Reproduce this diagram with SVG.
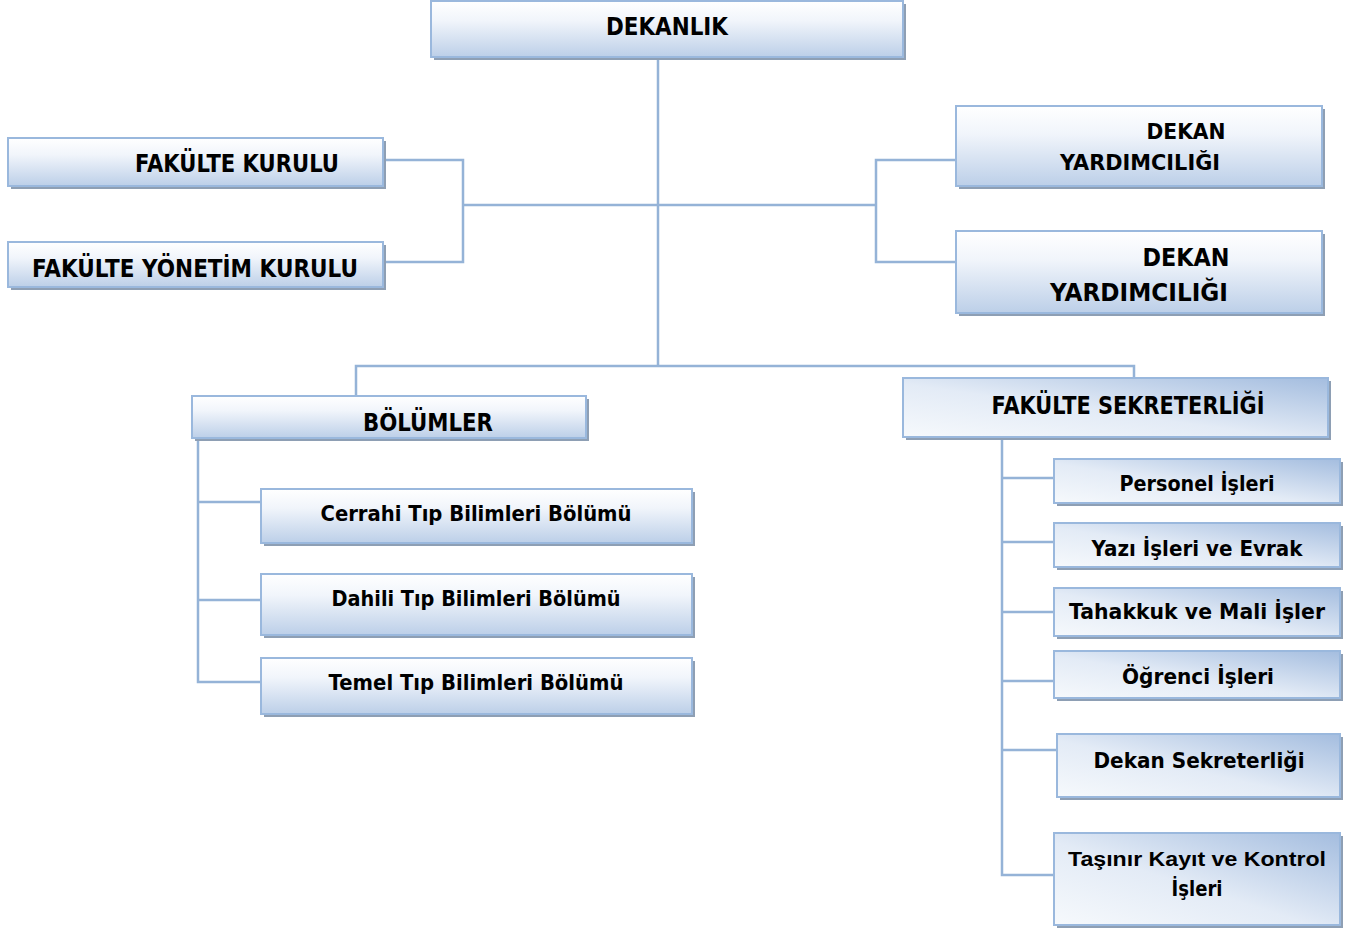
<svg xmlns="http://www.w3.org/2000/svg" width="1354" height="932" viewBox="0 0 1354 932">
<defs>
<linearGradient id="gv" x1="0" y1="0" x2="0" y2="1">
<stop offset="0" stop-color="#ffffff"/>
<stop offset="0.35" stop-color="#f1f5fb"/>
<stop offset="1" stop-color="#bccfe8"/>
</linearGradient>
<linearGradient id="gd" x1="1" y1="0" x2="0" y2="1">
<stop offset="0" stop-color="#a4bddf"/>
<stop offset="0.55" stop-color="#e3ebf6"/>
<stop offset="1" stop-color="#f6f9fc"/>
</linearGradient>
</defs>
<style>
.sh{fill:#8e9fb4}
.bv{fill:url(#gv);stroke:#9ab8dd;stroke-width:2}
.bd{fill:url(#gd);stroke:#9ab8dd;stroke-width:2}
text{font-family:"DejaVu Sans","Liberation Sans",sans-serif;font-weight:bold;fill:#000;text-anchor:middle}
.t1{font-size:24px}
.t2{font-size:22px}
.t3{font-size:20px;font-family:"Liberation Sans","DejaVu Sans",sans-serif}
.c{fill:none;stroke:#95b3d7;stroke-width:2.5}
</style>
<rect width="1354" height="932" fill="#ffffff"/>
<g id="connectors">
<path class="c" d="M658 57 V366"/>
<path class="c" d="M463 205 H876"/>
<path class="c" d="M383 160 H463 V262 H383"/>
<path class="c" d="M956 160 H876 V262 H956"/>
<path class="c" d="M356 396 V366 H1134 V378"/>
<path class="c" d="M198 438 V682 H261 M198 502 H261 M198 600 H261"/>
<path class="c" d="M1002 437 V875 H1054 M1002 478 H1054 M1002 542 H1054 M1002 612 H1054 M1002 681 H1054 M1002 750 H1057"/>
</g>
<g id="dekanlik">
<rect class="sh" x="434" y="4" width="472" height="56"/>
<rect class="bv" x="431" y="1" width="472" height="56"/>
<text class="t1" x="667" y="35" textLength="122" lengthAdjust="spacingAndGlyphs">DEKANLIK</text>
</g>
<g id="fakulte-kurulu">
<rect class="sh" x="11" y="141" width="375" height="48"/>
<rect class="bv" x="8" y="138" width="375" height="48"/>
<text class="t1" x="237" y="172" textLength="204" lengthAdjust="spacingAndGlyphs">FAKÜLTE KURULU</text>
</g>
<g id="fakulte-yonetim-kurulu">
<rect class="sh" x="11" y="245" width="375" height="45"/>
<rect class="bv" x="8" y="242" width="375" height="45"/>
<text class="t1" x="195" y="277" textLength="326" lengthAdjust="spacingAndGlyphs">FAKÜLTE YÖNETİM KURULU</text>
</g>
<g id="dekan-yardimciligi-1">
<rect class="sh" x="959" y="109" width="366" height="80"/>
<rect class="bv" x="956" y="106" width="366" height="80"/>
<text class="t2" x="1186" y="139" textLength="79" lengthAdjust="spacingAndGlyphs">DEKAN</text>
<text class="t2" x="1140" y="170" textLength="160" lengthAdjust="spacingAndGlyphs">YARDIMCILIĞI</text>
</g>
<g id="dekan-yardimciligi-2">
<rect class="sh" x="959" y="234" width="366" height="82"/>
<rect class="bv" x="956" y="231" width="366" height="82"/>
<text class="t1" x="1186" y="266" textLength="87" lengthAdjust="spacingAndGlyphs">DEKAN</text>
<text class="t1" x="1139" y="301" textLength="178" lengthAdjust="spacingAndGlyphs">YARDIMCILIĞI</text>
</g>
<g id="bolumler">
<rect class="sh" x="195" y="399" width="394" height="42"/>
<rect class="bv" x="192" y="396" width="394" height="42"/>
<text class="t1" x="428" y="431" textLength="130" lengthAdjust="spacingAndGlyphs">BÖLÜMLER</text>
</g>
<g id="cerrahi">
<rect class="sh" x="264" y="492" width="431" height="54"/>
<rect class="bv" x="261" y="489" width="431" height="54"/>
<text class="t2" x="476" y="521" textLength="311" lengthAdjust="spacingAndGlyphs">Cerrahi Tıp Bilimleri Bölümü</text>
</g>
<g id="dahili">
<rect class="sh" x="264" y="577" width="431" height="61"/>
<rect class="bv" x="261" y="574" width="431" height="61"/>
<text class="t2" x="476" y="606" textLength="289" lengthAdjust="spacingAndGlyphs">Dahili Tıp Bilimleri Bölümü</text>
</g>
<g id="temel">
<rect class="sh" x="264" y="661" width="431" height="56"/>
<rect class="bv" x="261" y="658" width="431" height="56"/>
<text class="t2" x="476" y="690" textLength="295" lengthAdjust="spacingAndGlyphs">Temel Tıp Bilimleri Bölümü</text>
</g>
<g id="fakulte-sekreterligi">
<rect class="sh" x="906" y="381" width="425" height="59"/>
<rect class="bd" x="903" y="378" width="425" height="59"/>
<text class="t1" x="1128" y="414" textLength="273" lengthAdjust="spacingAndGlyphs">FAKÜLTE SEKRETERLİĞİ</text>
</g>
<g id="personel">
<rect class="sh" x="1057" y="462" width="286" height="44"/>
<rect class="bd" x="1054" y="459" width="286" height="44"/>
<text class="t2" x="1197" y="491" textLength="155" lengthAdjust="spacingAndGlyphs">Personel İşleri</text>
</g>
<g id="yazi">
<rect class="sh" x="1057" y="526" width="286" height="44"/>
<rect class="bd" x="1054" y="523" width="286" height="44"/>
<text class="t2" x="1197" y="556" textLength="211" lengthAdjust="spacingAndGlyphs">Yazı İşleri ve Evrak</text>
</g>
<g id="tahakkuk">
<rect class="sh" x="1057" y="591" width="286" height="48"/>
<rect class="bd" x="1054" y="588" width="286" height="48"/>
<text class="t2" x="1197" y="619" textLength="256" lengthAdjust="spacingAndGlyphs">Tahakkuk ve Mali İşler</text>
</g>
<g id="ogrenci">
<rect class="sh" x="1057" y="654" width="286" height="47"/>
<rect class="bd" x="1054" y="651" width="286" height="47"/>
<text class="t2" x="1198" y="684" textLength="152" lengthAdjust="spacingAndGlyphs">Öğrenci İşleri</text>
</g>
<g id="dekan-sekreterligi">
<rect class="sh" x="1060" y="737" width="283" height="63"/>
<rect class="bd" x="1057" y="734" width="283" height="63"/>
<text class="t2" x="1199" y="768" textLength="211" lengthAdjust="spacingAndGlyphs">Dekan Sekreterliği</text>
</g>
<g id="tasinir">
<rect class="sh" x="1057" y="836" width="286" height="92"/>
<rect class="bd" x="1054" y="833" width="286" height="92"/>
<text class="t3" x="1197" y="866" textLength="258" lengthAdjust="spacingAndGlyphs">Taşınır Kayıt ve Kontrol</text>
<text class="t2" x="1197" y="896" textLength="51" lengthAdjust="spacingAndGlyphs">İşleri</text>
</g>
</svg>
